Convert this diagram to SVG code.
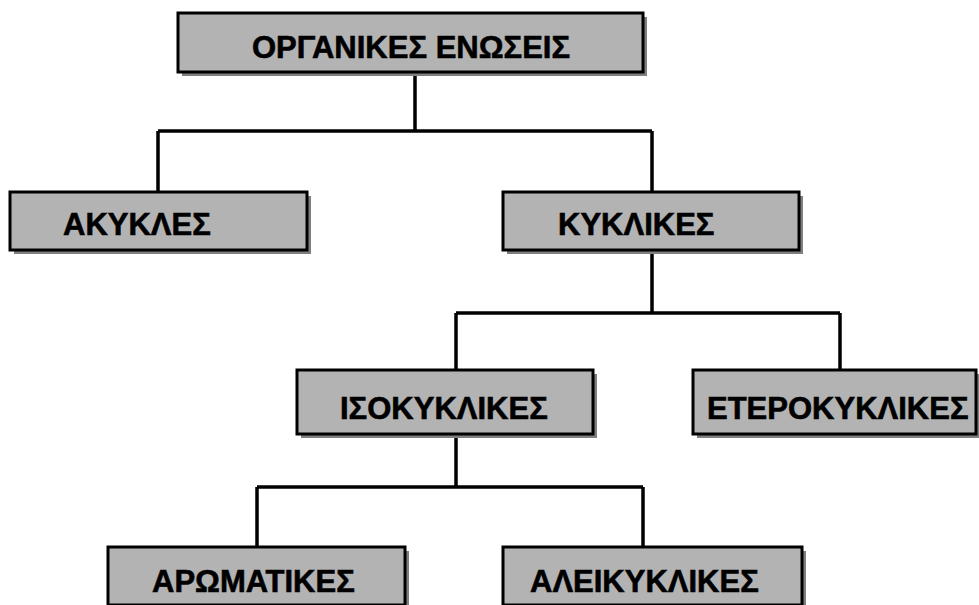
<svg xmlns="http://www.w3.org/2000/svg" width="979" height="605" viewBox="0 0 979 605">
<defs>
<style>
.sh{fill:#7f7f7f;}
.bx{fill:#b3b3b3;stroke:#000;stroke-width:3;}
.tx{font-family:"Liberation Sans",Arial,sans-serif;font-weight:bold;font-size:31px;fill:#000;stroke:#000;stroke-width:0.6;}
.cn{fill:none;stroke:#000;stroke-width:3.5;}
</style>
</defs>
<rect width="979" height="605" fill="#fff"/>
<g id="connectors">
<path class="cn" d="M415 72 V131 M158 131 H652 M158 131 V192 M652 131 V192"/>
<path class="cn" d="M652 250 V313 M456 313 H840 M456 313 V370 M840 313 V370"/>
<path class="cn" d="M456 434 V487 M257 487 H643 M257 487 V547 M643 487 V547"/>
</g>
<g id="organikes">
<rect class="sh" x="182" y="17" width="465" height="59"/>
<rect class="bx" x="178" y="13" width="465" height="59"/>
<text class="tx" x="411" y="58" text-anchor="middle">ΟΡΓΑΝΙΚΕΣ ΕΝΩΣΕΙΣ</text>
</g>
<g id="akykles">
<rect class="sh" x="14" y="196" width="297" height="58"/>
<rect class="bx" x="10" y="192" width="297" height="58"/>
<text class="tx" x="63" y="235">ΑΚΥΚΛΕΣ</text>
</g>
<g id="kyklikes">
<rect class="sh" x="507" y="196" width="296" height="58"/>
<rect class="bx" x="503" y="192" width="296" height="58"/>
<text class="tx" x="558" y="235">ΚΥΚΛΙΚΕΣ</text>
</g>
<g id="isokyklikes">
<rect class="sh" x="301" y="374" width="296" height="64"/>
<rect class="bx" x="297" y="370" width="296" height="64"/>
<text class="tx" x="340" y="419">ΙΣΟΚΥΚΛΙΚΕΣ</text>
</g>
<g id="eterokyklikes">
<rect class="sh" x="697" y="374" width="283" height="64"/>
<rect class="bx" x="693" y="370" width="283" height="64"/>
<text class="tx" x="707" y="419">ΕΤΕΡΟΚΥΚΛΙΚΕΣ</text>
</g>
<g id="aromatikes">
<rect class="sh" x="112" y="551" width="297" height="58"/>
<rect class="bx" x="108" y="547" width="297" height="58"/>
<text class="tx" x="152" y="592">ΑΡΩΜΑΤΙΚΕΣ</text>
</g>
<g id="aleikyklikes">
<rect class="sh" x="507" y="551" width="299" height="58"/>
<rect class="bx" x="503" y="547" width="299" height="58"/>
<text class="tx" x="530" y="592">ΑΛΕΙΚΥΚΛΙΚΕΣ</text>
</g>
</svg>
